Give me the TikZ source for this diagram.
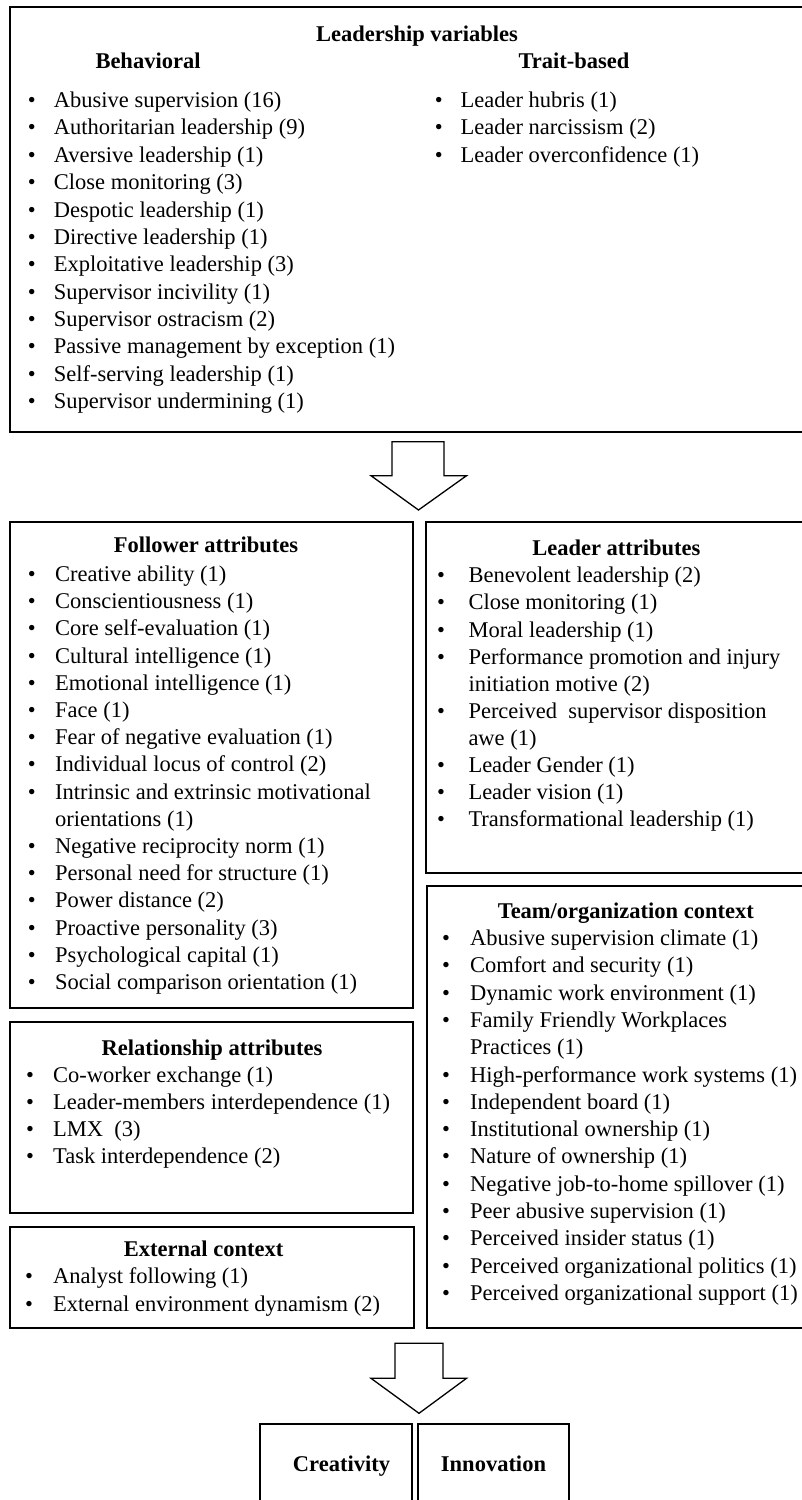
\documentclass[tikz,border=0pt]{standalone}
\usepackage{fontspec}
\setmainfont{Liberation Serif}
\usetikzlibrary{fit}
\tikzset{
  box/.style={draw, line width=1.8pt, inner sep=0pt},
  txtbase/.style={inner sep=0pt, text height=16pt, text depth=5pt, font=\fontsize{22.5}{27}\selectfont},
  itm/.style={txtbase, anchor=west},
  bul/.style={txtbase, anchor=center},
  ttl/.style={txtbase, anchor=center, font=\fontsize{22.5}{27}\selectfont\bfseries},
  blockarrow/.style={draw, line width=1.3pt, fill=white, line join=miter},
}
\newcommand\mklist[4]{% #1 prefix, #2 bullet x, #3 text x, #4 items y/text/bullet
  \foreach \yy/\txt/\bb [count=\i] in {#4} {
    \node[itm] (#1\i) at (#3,\yy) {\txt};
    \ifnum\bb=1 \node[bul] (#1b\i) at (#2,\yy) {•};\fi
  }}
\begin{document}
\begin{tikzpicture}[x=1pt,y=-1pt]
\useasboundingbox (0,0) rectangle (802,1500);
\clip (0,0) rectangle (802,1500);

% ---------- top box ----------
\node[box, fit={(10.2,6.7) (815,431.7)}] (topbox) {};
\node[ttl] (lv) at (417,36) {Leadership variables};
\node[ttl] (beh) at (148,63.3) {Behavioral};
\node[ttl] (trait) at (574,62.7) {Trait-based};
\mklist{bh}{31.7}{53.7}{101.7/{Abusive supervision (16)}/1,
  129.3/{Authoritarian leadership (9)}/1,
  156.7/{Aversive leadership (1)}/1,
  184.3/{Close monitoring (3)}/1,
  211.7/{Despotic leadership (1)}/1,
  239/{Directive leadership (1)}/1,
  266.3/{Exploitative leadership (3)}/1,
  293.5/{Supervisor incivility (1)}/1,
  321/{Supervisor ostracism (2)}/1,
  348.3/{Passive management by exception (1)}/1,
  375.7/{Self-serving leadership (1)}/1,
  403.3/{Supervisor undermining (1)}/1}
\mklist{tr}{438.9}{460.4}{101.7/{Leader hubris (1)}/1,
  129.3/{Leader narcissism (2)}/1,
  156.7/{Leader overconfidence (1)}/1}

% ---------- arrow 1 ----------
\draw[blockarrow] (392,441.7) -- (444,441.7) -- (444,475.7) -- (466.5,475.7)
  -- (418.5,510) -- (371,475.7) -- (392,475.7) -- cycle;

% ---------- follower attributes ----------
\node[box, fit={(10,521.7) (413,1008.3)}] (follower) {};
\node[ttl] (folt) at (206,546.7) {Follower attributes};
\mklist{fo}{31.7}{55}{576/{Creative ability (1)}/1,
  603.2/{Conscientiousness (1)}/1,
  630.4/{Core self-evaluation (1)}/1,
  657.6/{Cultural intelligence (1)}/1,
  684.8/{Emotional intelligence (1)}/1,
  712/{Face (1)}/1,
  739.2/{Fear of negative evaluation (1)}/1,
  766.4/{Individual locus of control (2)}/1,
  793.6/{Intrinsic and extrinsic motivational}/1,
  820.8/{orientations (1)}/0,
  848/{Negative reciprocity norm (1)}/1,
  875.2/{Personal need for structure (1)}/1,
  902.4/{Power distance (2)}/1,
  929.6/{Proactive personality (3)}/1,
  956.8/{Psychological capital (1)}/1,
  984/{Social comparison orientation (1)}/1}

% ---------- leader attributes ----------
\node[box, fit={(425.6,521.7) (815,873.3)}] (leader) {};
\node[ttl] (leat) at (616.3,550) {Leader attributes};
\mklist{le}{441}{468.3}{577.3/{Benevolent leadership (2)}/1,
  604.4/{Close monitoring (1)}/1,
  631.5/{Moral leadership (1)}/1,
  658.6/{Performance promotion and injury}/1,
  685.7/{initiation motive (2)}/0,
  712.8/{Perceived~ supervisor disposition}/1,
  739.9/{awe (1)}/0,
  767/{Leader Gender (1)}/1,
  794.1/{Leader vision (1)}/1,
  821.2/{Transformational leadership (1)}/1}

% ---------- team/organization context ----------
\node[box, fit={(426.7,886) (815,1328.3)}] (team) {};
\node[ttl] (teat) at (625.8,912.7) {Team/organization context};
\mklist{te}{446}{470}{940/{Abusive supervision climate (1)}/1,
  967.3/{Comfort and security (1)}/1,
  994.6/{Dynamic work environment (1)}/1,
  1021.9/{Family Friendly Workplaces}/1,
  1049.2/{Practices (1)}/0,
  1076.5/{High-performance work systems (1)}/1,
  1103.8/{Independent board (1)}/1,
  1131.1/{Institutional ownership (1)}/1,
  1158.4/{Nature of ownership (1)}/1,
  1185.7/{Negative job-to-home spillover (1)}/1,
  1213/{Peer abusive supervision (1)}/1,
  1240.3/{Perceived insider status (1)}/1,
  1267.6/{Perceived organizational politics (1)}/1,
  1294.9/{Perceived organizational support (1)}/1}

% ---------- relationship attributes ----------
\node[box, fit={(10,1021.7) (413,1212.7)}] (relation) {};
\node[ttl] (relt) at (212,1050) {Relationship attributes};
\mklist{re}{30}{53}{1077.3/{Co-worker exchange (1)}/1,
  1104.3/{Leader-members interdependence (1)}/1,
  1131.3/{LMX~ (3)}/1,
  1158.3/{Task interdependence (2)}/1}

% ---------- external context ----------
\node[box, fit={(10,1226.7) (414,1328.3)}] (external) {};
\node[ttl] (ext) at (203.6,1250.7) {External context};
\mklist{ex}{29}{53}{1278.3/{Analyst following (1)}/1,
  1306/{External environment dynamism (2)}/1}

% ---------- arrow 2 ----------
\draw[blockarrow] (395,1343.3) -- (443,1343.3) -- (443,1378.3) -- (466.5,1378.3)
  -- (419,1413.3) -- (371,1378.3) -- (395,1378.3) -- cycle;

% ---------- outcome boxes ----------
\node[box, fit={(260,1424.3) (412,1515)}] (creat) {};
\node[box, fit={(418,1424.3) (569.3,1515)}] (innov) {};
\node[ttl] (creatt) at (341.5,1466) {Creativity};
\node[ttl] (innovt) at (493.5,1466) {Innovation};
\end{tikzpicture}
\end{document}
